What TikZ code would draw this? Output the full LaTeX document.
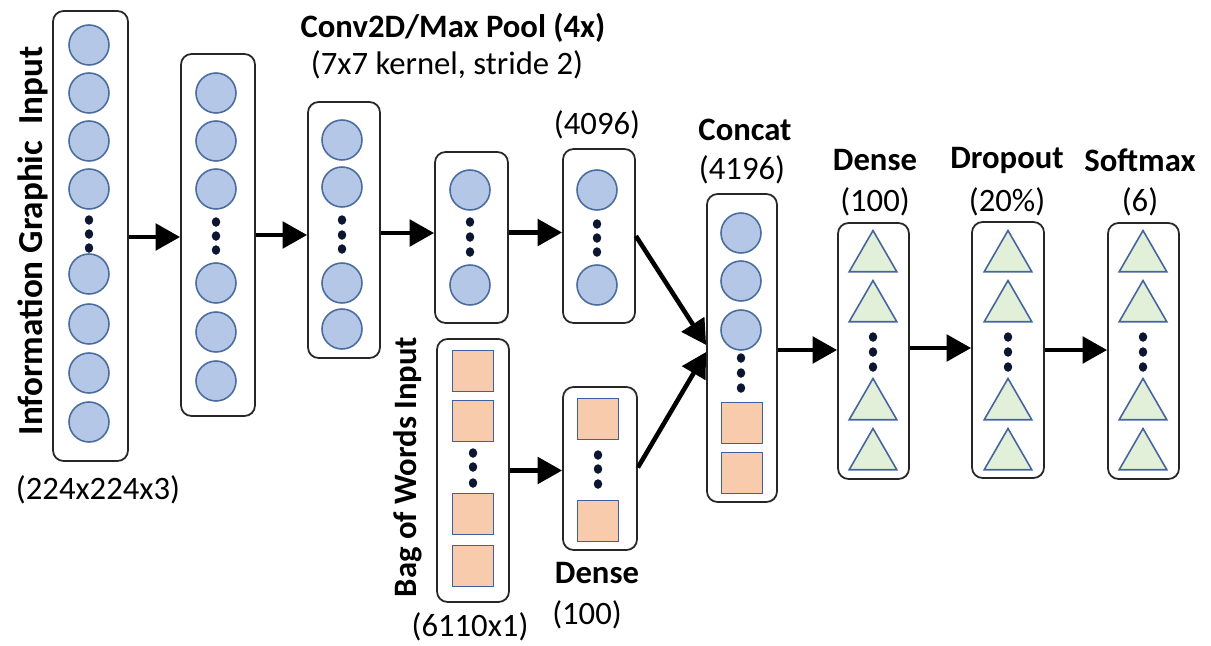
\documentclass[tikz,border=0pt]{standalone}
\usepackage{fontspec}
\setmainfont{Carlito}
\usetikzlibrary{arrows.meta,shapes.geometric,fit,calc}
\definecolor{circf}{HTML}{B4C7E7}
\definecolor{circb}{HTML}{4A6C9E}
\definecolor{sqf}{HTML}{F8CBAD}
\definecolor{sqb}{HTML}{3F5F9E}
\definecolor{trif}{HTML}{E2F0D9}
\definecolor{trib}{HTML}{44659E}
\definecolor{dotc}{HTML}{0C1630}
\begin{document}
\begin{tikzpicture}[x=0.02cm,y=-0.02cm,
  layer/.style={draw=black!85,line width=1pt,rounded corners=6pt,inner sep=0pt},
  neu/.style={circle,draw=circb,fill=circf,line width=0.9pt,minimum size=0.8cm,inner sep=0pt},
  sq/.style={rectangle,draw=sqb,fill=sqf,line width=0.8pt,minimum size=0.82cm,inner sep=0pt},
  tri/.style={regular polygon,regular polygon sides=3,draw=trib,fill=trif,line width=0.9pt,minimum size=1.1cm,inner sep=0pt},
  dot/.style={ellipse,fill=dotc,minimum width=0.17cm,minimum height=0.19cm,inner sep=0pt},
  arr/.style={line width=2.6pt,-{Triangle[length=14pt,width=15pt]}},
  lab/.style={font=\fontsize{18.6}{20}\selectfont,inner sep=0pt},
  blab/.style={font=\fontsize{18.6}{20}\selectfont\bfseries,inner sep=0pt},
]
\useasboundingbox (0,0) rectangle (1211,646);

% ---- column 1: image input
\foreach \y [count=\i] in {45,93,141,189,274,324,373,422} \node[neu] (a\i) at (89,\y) {};
\foreach \y [count=\i] in {220,234,248} \node[dot] (ad\i) at (89,\y) {};
\node[layer,fit={(53,11) (128,461)}] (b1) {};

% ---- column 2
\foreach \y [count=\i] in {93,141,189,283,332,381} \node[neu] (c\i) at (216,\y) {};
\foreach \y [count=\i] in {222,236,250} \node[dot] (cd\i) at (216,\y) {};
\node[layer,fit={(181,54) (255,416)}] (b2) {};

% ---- column 3
\foreach \y [count=\i] in {140,187,283,329} \node[neu] (e\i) at (342,\y) {};
\foreach \y [count=\i] in {220,235,249} \node[dot] (ed\i) at (342,\y) {};
\node[layer,fit={(308,102) (380,358)}] (b3) {};

% ---- column 4
\foreach \y [count=\i] in {190,285} \node[neu] (f\i) at (470,\y) {};
\foreach \y [count=\i] in {222,237,252} \node[dot] (fd\i) at (470,\y) {};
\node[layer,fit={(435,152) (508,323)}] (b4) {};

% ---- column 5
\foreach \y [count=\i] in {190,285} \node[neu] (g\i) at (597,\y) {};
\foreach \y [count=\i] in {224,238,252} \node[dot] (gd\i) at (597,\y) {};
\node[layer,fit={(563,149) (635,323)}] (b5) {};

% ---- bag of words
\foreach \y [count=\i] in {371,421,514,566} \node[sq] (h\i) at (473,\y) {};
\foreach \y [count=\i] in {453,467,483} \node[dot] (hd\i) at (473,\y) {};
\node[layer,fit={(437,339) (509,602)}] (b6) {};

% ---- dense (bow)
\foreach \y [count=\i] in {419,521} \node[sq] (k\i) at (598,\y) {};
\foreach \y [count=\i] in {455,469,484} \node[dot] (kd\i) at (598,\y) {};
\node[layer,fit={(563,387) (637,550)}] (b7) {};

% ---- concat
\foreach \y [count=\i] in {233,281,330} \node[neu] (m\i) at (741,\y) {};
\foreach \y [count=\i] in {358,373,388} \node[dot] (md\i) at (741,\y) {};
\foreach \y [count=\i] in {423,473} \node[sq] (ms\i) at (742,\y) {};
\node[layer,fit={(707,194) (777,502)}] (b8) {};

% ---- dense / dropout / softmax
\foreach \x/\n in {873/p,1008/q,1143/r}{
  \foreach \y [count=\i] in {258,308,406,456} \node[tri] (\n\i) at (\x,\y) {};
  \foreach \y [count=\i] in {337,352,367} \node[dot] (\n d\i) at (\x,\y) {};
}
\node[layer,fit={(838,223) (909,479)}] (b9) {};
\node[layer,fit={(972,222) (1044,478)}] (b10) {};
\node[layer,fit={(1108,223) (1179,479)}] (b11) {};

% ---- arrows
\draw[arr] ($(b1.east)+(0,1)$) coordinate (s1) -- (b2.west |- s1);
\draw[arr] ($(b2.east)+(0,0)$) coordinate (s2) -- (b3.west |- s2);
\draw[arr] ($(b3.east)+(0,3)$) coordinate (s3) -- (b4.west |- s3);
\draw[arr] ($(b4.east)+(0,-5)$) coordinate (s4) -- (b5.west |- s4);
\draw[arr] (b5.east) -- ($(b8.west)+(0,-3)$);
\draw[arr] ($(b7.east)+(0,-1)$) -- ($(b8.west)+(0,4)$);
\draw[arr] ($(b6.east)+(0,0)$) coordinate (s6) -- (b7.west |- s6);
\draw[arr] ($(b8.east)+(0,2)$) coordinate (s8) -- (b9.west |- s8);
\draw[arr] ($(b9.east)+(0,-3)$) coordinate (s9) -- (b10.west |- s9);
\draw[arr] ($(b10.east)+(0,0)$) coordinate (s10) -- (b11.west |- s10);

% ---- labels
\node[blab,font=\fontsize{20}{22}\selectfont\bfseries,rotate=90] (t1) at (33,241) {Information Graphic\hspace{0.45em}Input};
\node[lab] (t2) at (98,490) {(224x224x3)};
\node[blab] (t3) at (453,28) {Conv2D/Max Pool (4x)};
\node[lab] (t4) at (447,65) {(7x7 kernel, stride 2)};
\node[lab] (t5) at (597,125) {(4096)};
\node[blab,rotate=90] (t6) at (408,467) {Bag of Words Input};
\node[lab] (t7) at (470,627) {(6110x1)};
\node[blab] (t8) at (597,573) {Dense};
\node[lab] (t9) at (587,615) {(100)};
\node[blab] (t10) at (745,130) {Concat};
\node[lab] (t11) at (742,170) {(4196)};
\node[blab] (t12) at (875,160) {Dense};
\node[lab] (t13) at (875,202) {(100)};
\node[blab] (t14) at (1007,160) {Dropout};
\node[lab] (t15) at (1007,202) {(20\%)};
\node[blab] (t16) at (1140,160) {Softmax};
\node[lab] (t17) at (1140,202) {(6)};
\end{tikzpicture}
\end{document}
